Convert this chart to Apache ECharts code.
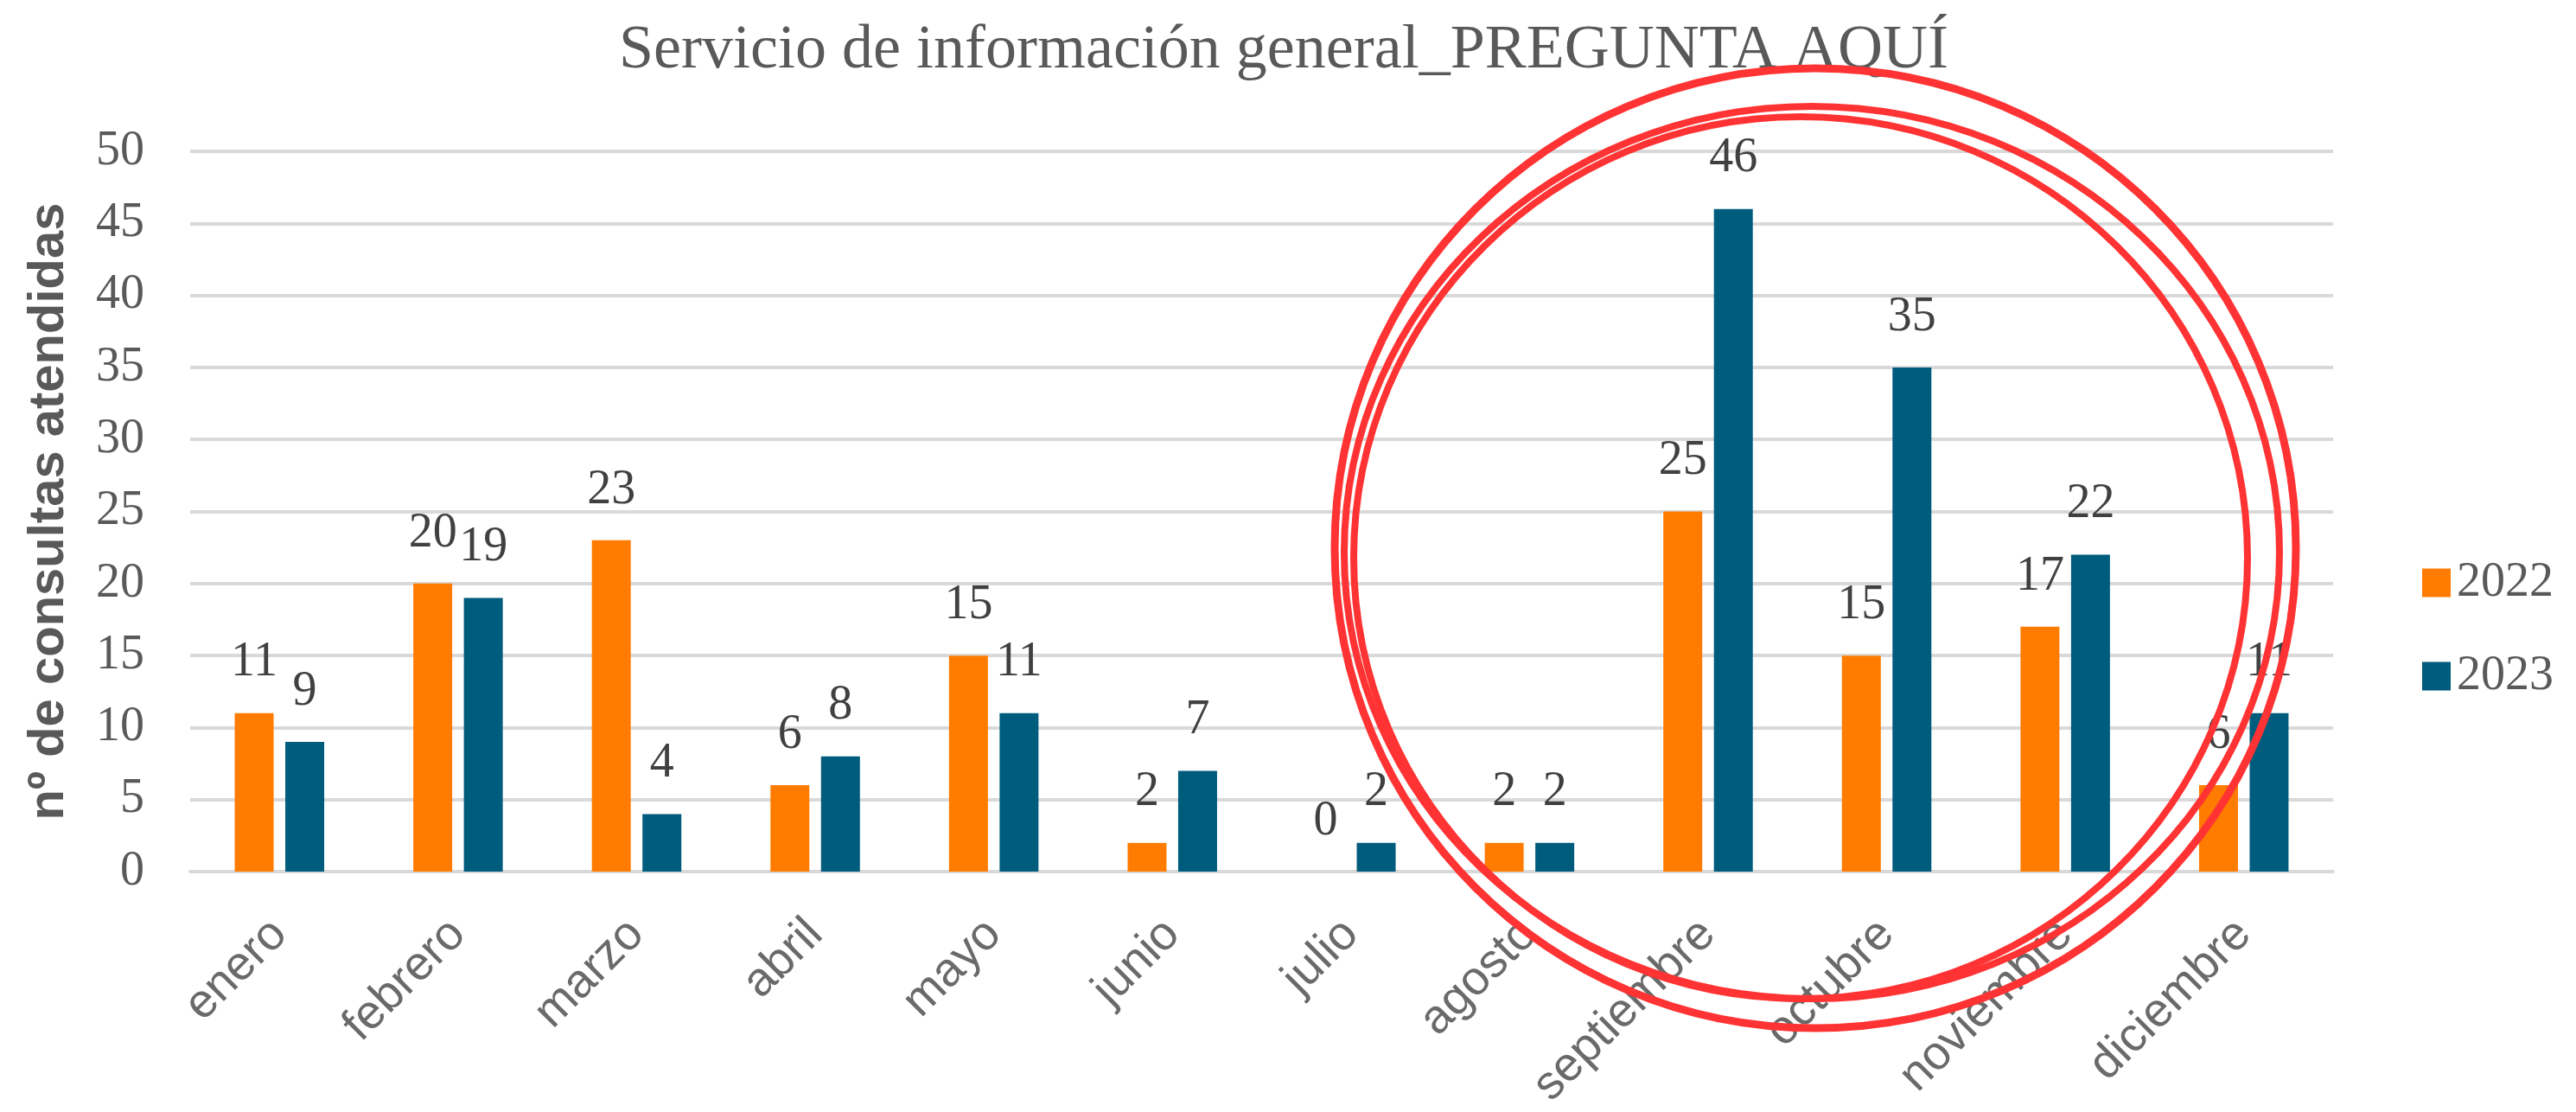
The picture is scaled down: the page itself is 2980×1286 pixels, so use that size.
<!DOCTYPE html>
<html>
<head>
<meta charset="utf-8">
<title>Servicio de información general_PREGUNTA AQUÍ</title>
<script src="https://cdn.jsdelivr.net/npm/echarts@6/dist/echarts.min.js"></script>
<style>
  html, body { margin: 0; padding: 0; background: #fff; }
  #chart { width: 2980px; height: 1286px; }
</style>
</head>
<body>
<div id="chart"></div>
<script>
// meses
const months = ["enero", "febrero", "marzo", "abril", "mayo", "junio", "julio",
  "agosto", "septiembre", "octubre", "noviembre", "diciembre"];
// consultas atendidas por año
const values2022 = [11, 20, 23, 6, 15, 2, 0, 2, 25, 15, 17, 6];
const values2023 = [9, 19, 4, 8, 11, 7, 2, 2, 46, 35, 22, 11];
const seriesNames = ["2022", "2023"];

const serif = "'Liberation Serif', 'Times New Roman', serif";
const sans = "'Liberation Sans', Arial, sans-serif";
const gridColor = "#d9d9d9";

const chart = echarts.init(document.getElementById("chart"));

// etiquetas de datos sobre cada barra
const dataLabel = {
  show: true,
  position: "top",
  distance: 30,
  fontFamily: serif,
  fontSize: 56,
  color: "#404040",
};

chart.setOption({
  animation: false,
  backgroundColor: "#ffffff",
  color: ["#ff7c00", "#005c7c"],
  title: {
    text: "Servicio de información general_PREGUNTA AQUÍ",
    left: 1480,
    top: 18,
    textAlign: "center",
    textStyle: {
      fontFamily: serif,
      fontSize: 72,
      fontWeight: "normal",
      color: "#595959",
    },
  },
  legend: {
    orient: "vertical",
    left: 2797,
    top: 641,
    itemWidth: 33,
    itemHeight: 33,
    itemGap: 52,
    icon: "rect",
    data: seriesNames,
    textStyle: {
      fontFamily: serif,
      fontSize: 56,
      color: "#595959",
      padding: [0, 0, 0, 2],
    },
  },
  grid: {
    left: 220,
    right: 281,
    top: 175,
    bottom: 273,
  },
  xAxis: {
    type: "category",
    data: months,
    axisTick: { show: false },
    axisLine: { lineStyle: { color: gridColor, width: 4 } },
    axisLabel: {
      interval: 0,
      rotate: 45,
      margin: 64,
      fontFamily: sans,
      fontSize: 55,
      color: "#6a6a6a",
    },
  },
  yAxis: {
    type: "value",
    min: 0,
    max: 50,
    interval: 5,
    name: "nº de consultas atendidas",
    nameLocation: "middle",
    nameGap: 134,
    nameTextStyle: {
      fontFamily: sans,
      fontSize: 58,
      fontWeight: "bold",
      color: "#595959",
    },
    axisLine: { show: false },
    axisTick: { show: false },
    axisLabel: {
      margin: 53,
      fontFamily: serif,
      fontSize: 56,
      color: "#595959",
    },
    splitLine: { lineStyle: { color: gridColor, width: 4 } },
  },
  series: [
    {
      name: seriesNames[0],
      type: "bar",
      data: values2022,
      barWidth: 45,
      barGap: "30%",
      label: dataLabel,
    },
    {
      name: seriesNames[1],
      type: "bar",
      data: values2023,
      barWidth: 45,
      barGap: "30%",
      label: dataLabel,
    },
  ],
  // círculos rojos dibujados a mano sobre sept-dic
  graphic: [
    {
      type: "ellipse",
      z: 100,
      shape: { cx: 2100, cy: 634, rx: 556, ry: 555 },
      style: { fill: null, stroke: "#ff3333", lineWidth: 9 },
    },
    {
      type: "ellipse",
      z: 100,
      shape: { cx: 2096, cy: 639, rx: 541, ry: 516 },
      style: { fill: null, stroke: "#ff3333", lineWidth: 8 },
    },
    {
      type: "ellipse",
      z: 100,
      shape: { cx: 2083, cy: 645, rx: 517, ry: 510 },
      style: { fill: null, stroke: "#ff3333", lineWidth: 8 },
    },
  ],
});
</script>
</body>
</html>
